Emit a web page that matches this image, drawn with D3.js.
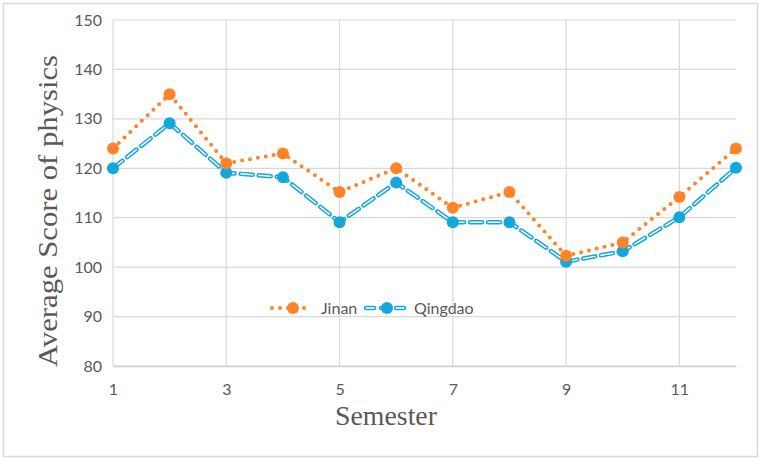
<!DOCTYPE html>
<html>
<head>
<meta charset="utf-8">
<script src="https://cdn.jsdelivr.net/npm/d3@7"></script>
<style>
  body { margin: 0; background: #fff; }
  svg { display: block; }
</style>
</head>
<body>
<svg id="chart"></svg>
<script>
var semesters = [1, 2, 3, 4, 5, 6, 7, 8, 9, 10, 11, 12];
var jinan = [124, 135, 121, 123, 115.2, 120, 112, 115.2, 102.3, 105, 114.2, 124];
var qingdao = [120, 129.1, 119.1, 118.2, 109.1, 117.1, 109.1, 109.1, 101.1, 103.2, 110.1, 120.1];
var xTicks = [1, 3, 5, 7, 9, 11];
var yTicks = [80, 90, 100, 110, 120, 130, 140, 150];

var width = 762, height = 459;
var orange = '#FF8429', blue = '#13A7DD';
var textGray = '#595959', gridGray = '#d9d9d9';
var tickFont = 'Lato, "Open Sans", sans-serif';
var titleFont = '"Liberation Serif", "DejaVu Serif", serif';

var svg = d3.select('#chart')
    .attr('width', width)
    .attr('height', height)

svg.append('rect')
  .attr('x', 3.5).attr('y', 3.5)
  .attr('width', 754).attr('height', 453)
  .attr('fill', '#fff')
  .attr('stroke', '#d9d9d9')
  .attr('stroke-width', 1.5)

var x = d3.scaleLinear().domain([1, 12]).range([113, 736]);
var y = d3.scaleLinear().domain([80, 150]).range([366, 20]);

// grid
svg.append('g')
  .selectAll('line')
  .data(yTicks)
  .enter()
  .append('line')
  .attr('x1', x(1)).attr('x2', x(12))
  .attr('y1', function(d) { return y(d); })
  .attr('y2', function(d) { return y(d); })
  .attr('stroke', gridGray)
  .attr('stroke-width', 1.2)

svg.append('g')
  .selectAll('line')
  .data(xTicks)
  .enter()
  .append('line')
  .attr('x1', function(d) { return x(d); })
  .attr('x2', function(d) { return x(d); })
  .attr('y1', y(150)).attr('y2', y(80))
  .attr('stroke', gridGray)
  .attr('stroke-width', 1.2)

// axis labels via d3 axes
var yAxis = svg.append('g')
  .attr('transform', 'translate(' + x(1) + ',0)')
  .call(d3.axisLeft(y).tickValues(yTicks).tickSize(0).tickPadding(11))
yAxis.select('.domain').remove()
yAxis.selectAll('text')
  .attr('fill', textGray)
  .style('font-family', tickFont)
  .style('font-size', '16px')

var xAxis = svg.append('g')
  .attr('transform', 'translate(0,' + y(80) + ')')
  .call(d3.axisBottom(x).tickValues(xTicks).tickSize(0).tickPadding(18))
xAxis.select('.domain')
  .attr('stroke', '#d0d0d0')
  .attr('stroke-width', 1.5)
xAxis.selectAll('text')
  .attr('fill', textGray)
  .style('font-family', tickFont)
  .style('font-size', '16px')

// titles
svg.append('text')
  .attr('transform', 'translate(57,211) rotate(-90)')
  .attr('text-anchor', 'middle')
  .attr('fill', textGray)
  .attr('textLength', 312)
  .attr('lengthAdjust', 'spacingAndGlyphs')
  .style('font-family', titleFont)
  .style('font-size', '27px')
  .text('Average Score of physics')

svg.append('text')
  .attr('x', 386).attr('y', 425)
  .attr('text-anchor', 'middle')
  .attr('fill', textGray)
  .attr('textLength', 102)
  .attr('lengthAdjust', 'spacingAndGlyphs')
  .style('font-family', titleFont)
  .style('font-size', '27px')
  .text('Semester')

var line = d3.line()
  .x(function(d) { return x(d[0]); })
  .y(function(d) { return y(d[1]); })

var jData = semesters.map(function(s, i) { return [s, jinan[i]]; });
var qData = semesters.map(function(s, i) { return [s, qingdao[i]]; });

// Qingdao: hollow dashed line
svg.append('path')
  .attr('d', line(qData))
  .attr('fill', 'none')
  .attr('stroke', blue)
  .attr('stroke-width', 4.5)
  .attr('stroke-dasharray', '12,6')
  .attr('stroke-linecap', 'round')
svg.append('path')
  .attr('d', line(qData))
  .attr('fill', 'none')
  .attr('stroke', '#fff')
  .attr('stroke-width', 1.5)
  .attr('stroke-dasharray', '12,6')
  .attr('stroke-linecap', 'round')

// Jinan: round dotted line
svg.append('path')
  .attr('d', line(jData))
  .attr('fill', 'none')
  .attr('stroke', orange)
  .attr('stroke-width', 4)
  .attr('stroke-dasharray', '0,8')
  .attr('stroke-linecap', 'round')

svg.append('g')
  .selectAll('circle')
  .data(qData)
  .enter()
  .append('circle')
  .attr('cx', function(d) { return x(d[0]); })
  .attr('cy', function(d) { return y(d[1]); })
  .attr('r', 6)
  .attr('fill', blue)

svg.append('g')
  .selectAll('circle')
  .data(jData)
  .enter()
  .append('circle')
  .attr('cx', function(d) { return x(d[0]); })
  .attr('cy', function(d) { return y(d[1]); })
  .attr('r', 6)
  .attr('fill', orange)

// legend
var lg = svg.append('g').attr('transform', 'translate(0,308)')
lg.append('line')
  .attr('x1', 272).attr('x2', 312).attr('y1', 0).attr('y2', 0)
  .attr('stroke', orange).attr('stroke-width', 4)
  .attr('stroke-dasharray', '0,8').attr('stroke-linecap', 'round')
lg.append('circle').attr('cx', 293).attr('cy', 0).attr('r', 6).attr('fill', orange)
lg.append('text')
  .attr('x', 321).attr('y', 5.5)
  .attr('fill', textGray)
  .style('font-family', tickFont)
  .style('font-size', '16px')
  .text('Jinan')

lg.append('line')
  .attr('x1', 366).attr('x2', 405).attr('y1', 0).attr('y2', 0)
  .attr('stroke', blue).attr('stroke-width', 4.5)
  .attr('stroke-dasharray', '8,7').attr('stroke-linecap', 'round')
lg.append('line')
  .attr('x1', 366).attr('x2', 405).attr('y1', 0).attr('y2', 0)
  .attr('stroke', '#fff').attr('stroke-width', 1.5)
  .attr('stroke-dasharray', '8,7').attr('stroke-linecap', 'round')
lg.append('circle').attr('cx', 387).attr('cy', 0).attr('r', 6).attr('fill', blue)
lg.append('text')
  .attr('x', 414).attr('y', 5.5)
  .attr('fill', textGray)
  .style('font-family', tickFont)
  .style('font-size', '16px')
  .text('Qingdao')
</script>
</body>
</html>
